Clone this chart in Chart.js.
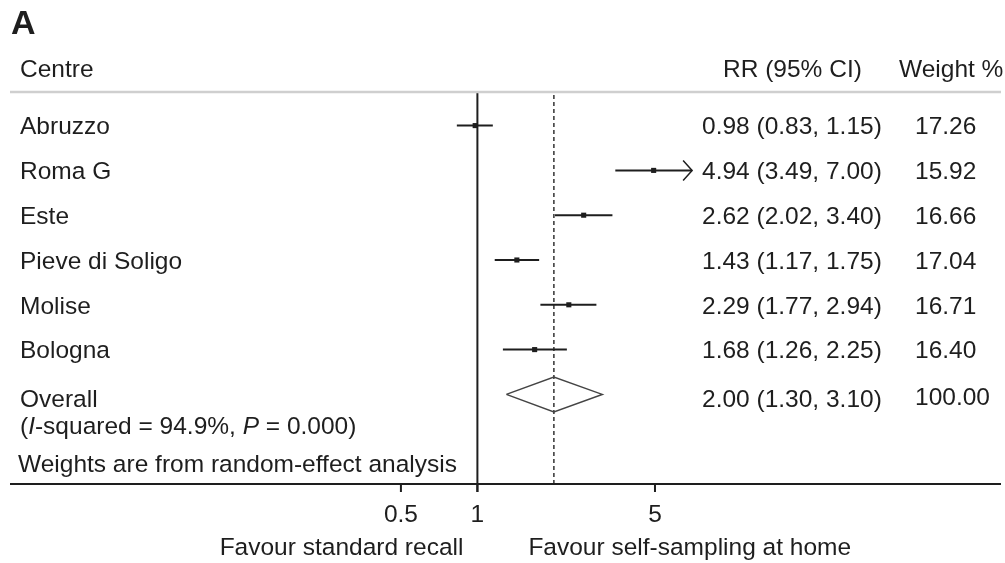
<!DOCTYPE html>
<html>
<head>
<meta charset="utf-8">
<title>Forest plot</title>
<script src="https://cdn.jsdelivr.net/npm/chart.js@4.4.0/dist/chart.umd.min.js"></script>
<style>
  html, body { margin: 0; padding: 0; background: #fff; overflow: hidden; }
  #forest { display: block; }
</style>
</head>
<body>
<canvas id="forest" width="1005" height="563"></canvas>
<script>
// === DATA ===
const centres = ['Abruzzo', 'Roma G', 'Este', 'Pieve di Soligo', 'Molise', 'Bologna'];
const rr = [0.98, 4.94, 2.62, 1.43, 2.29, 1.68];
const ciLow = [0.83, 3.49, 2.02, 1.17, 1.77, 1.26];
const ciHigh = [1.15, 7.00, 3.40, 1.75, 2.94, 2.25];
const weights = ['17.26', '15.92', '16.66', '17.04', '16.71', '16.40'];
const rowY = [8, 7, 6, 5, 4, 3];

const overallRR = 2.00;
const overallLow = 1.30;
const overallHigh = 3.10;
const overallWeight = '100.00';
const overallY = 2;

const tickValues = [0.5, 1, 5];
const tickLabels = ['0.5', '1', '5'];

const FONT = '"Liberation Sans", Arial, Helvetica, sans-serif';
const SIZE = '24.5px';
const INK = '#1e1e1e';

function fmt(v) { return v.toFixed(2); }

// === DATASETS ===
const datasets = [];

// intervalles de confiance
centres.forEach((c, i) => {
    datasets.push({
        data: [{ x: ciLow[i], y: rowY[i] }, { x: ciHigh[i], y: rowY[i] }],
        showLine: true,
        borderColor: INK,
        borderWidth: 2,
        pointRadius: 0
    });
});

// estimations ponctuelles
datasets.push({
    data: rr.map((v, i) => ({ x: v, y: rowY[i] })),
    pointStyle: 'rect',
    pointRadius: 3.6,
    backgroundColor: INK,
    borderWidth: 0
});

// losange global
datasets.push({
    data: [
        { x: overallLow, y: overallY },
        { x: overallRR, y: overallY + 0.39 },
        { x: overallHigh, y: overallY },
        { x: overallRR, y: overallY - 0.39 },
        { x: overallLow, y: overallY }
    ],
    showLine: true,
    borderColor: '#444',
    borderWidth: 1.5,
    pointRadius: 0
});

// ligne de nullité (RR = 1)
datasets.push({
    data: [{ x: 1, y: -0.18 }, { x: 1, y: 8.75 }],
    showLine: true,
    borderColor: INK,
    borderWidth: 2,
    pointRadius: 0,
    clip: false
});

// ligne pointillée de l'effet global
datasets.push({
    data: [{ x: overallRR, y: 0 }, { x: overallRR, y: 8.75 }],
    showLine: true,
    borderColor: '#333',
    borderWidth: 1.5,
    borderDash: [4, 3],
    pointRadius: 0
});

// === TEXTES ET AXE ===
const forestText = {
    id: 'forestText',
    afterDraw(chart) {
        const { ctx, chartArea, scales: { x, y } } = chart;
        ctx.save();

        // ligne grise sous l'en-tête
        ctx.strokeStyle = '#cfcfcf';
        ctx.lineWidth = 2.5;
        ctx.beginPath();
        ctx.moveTo(chartArea.left, chartArea.top);
        ctx.lineTo(chartArea.right, chartArea.top);
        ctx.stroke();

        // axe horizontal
        const axisY = y.getPixelForValue(0);
        ctx.strokeStyle = INK;
        ctx.lineWidth = 2;
        ctx.beginPath();
        ctx.moveTo(chartArea.left, axisY);
        ctx.lineTo(chartArea.right, axisY);
        tickValues.forEach(v => {
            const px = x.getPixelForValue(v);
            ctx.moveTo(px, axisY);
            ctx.lineTo(px, axisY + 8);
        });
        ctx.stroke();

        // flèche pour l'IC tronqué (Roma G)
        const ax = x.getPixelForValue(ciHigh[1]);
        const ay = y.getPixelForValue(rowY[1]);
        ctx.lineWidth = 1.5;
        ctx.beginPath();
        ctx.moveTo(ax - 9, ay - 10);
        ctx.lineTo(ax, ay);
        ctx.lineTo(ax - 9, ay + 10);
        ctx.stroke();

        ctx.fillStyle = INK;
        ctx.textBaseline = 'middle';

        // lettre du panneau
        ctx.font = `bold 34px ${FONT}`;
        ctx.textAlign = 'left';
        ctx.fillText('A', 11, 25);

        ctx.font = `${SIZE} ${FONT}`;
        const headY = y.getPixelForValue(9.24);
        ctx.fillText('Centre', 20, headY);
        ctx.fillText('RR (95% CI)', 723, headY);
        ctx.fillText('Weight %', 899, headY);

        centres.forEach((c, i) => {
            const py = y.getPixelForValue(rowY[i]) + 2;
            ctx.fillText(c, 20, py);
            ctx.fillText(`${fmt(rr[i])} (${fmt(ciLow[i])}, ${fmt(ciHigh[i])})`, 702, py);
            ctx.fillText(weights[i], 915, py);
        });

        const oy = y.getPixelForValue(overallY) + 6;
        ctx.fillText('Overall', 20, oy);
        ctx.fillText(`${fmt(overallRR)} (${fmt(overallLow)}, ${fmt(overallHigh)})`, 702, oy);
        ctx.fillText(overallWeight, 915, oy - 2);

        // ligne I-squared avec italiques
        const parts = [
            ['(', false], ['I', true], ['-squared = 94.9%, ', false],
            ['P', true], [' = 0.000)', false]
        ];
        let tx = 20;
        const iy = y.getPixelForValue(1.27);
        parts.forEach(([t, it]) => {
            ctx.font = `${it ? 'italic ' : ''}${SIZE} ${FONT}`;
            ctx.fillText(t, tx, iy);
            tx += ctx.measureText(t).width;
        });

        ctx.font = `${SIZE} ${FONT}`;
        ctx.fillText('Weights are from random-effect analysis', 18, y.getPixelForValue(0.42));

        // étiquettes des graduations
        ctx.textAlign = 'center';
        tickValues.forEach((v, i) => {
            ctx.fillText(tickLabels[i], x.getPixelForValue(v), axisY + 31);
        });

        // titres « favour »
        const one = x.getPixelForValue(1);
        ctx.textAlign = 'right';
        ctx.fillText('Favour standard recall', one - 14, axisY + 64);
        ctx.textAlign = 'left';
        ctx.fillText('Favour self-sampling at home', one + 51, axisY + 64);

        ctx.restore();
    }
};

// === GRAPHIQUE ===
new Chart(document.getElementById('forest').getContext('2d'), {
    type: 'scatter',
    data: { datasets: datasets },
    options: {
        responsive: false,
        animation: false,
        devicePixelRatio: 1,
        layout: { padding: { left: 10, right: 0, top: 92, bottom: 79 } },
        plugins: {
            legend: { display: false },
            tooltip: { enabled: false }
        },
        scales: {
            x: {
                type: 'logarithmic',
                display: false,
                min: 0.014465,
                max: 115.05
            },
            y: {
                type: 'linear',
                display: false,
                min: 0,
                max: 8.75
            }
        }
    },
    plugins: [forestText]
});
</script>
</body>
</html>
